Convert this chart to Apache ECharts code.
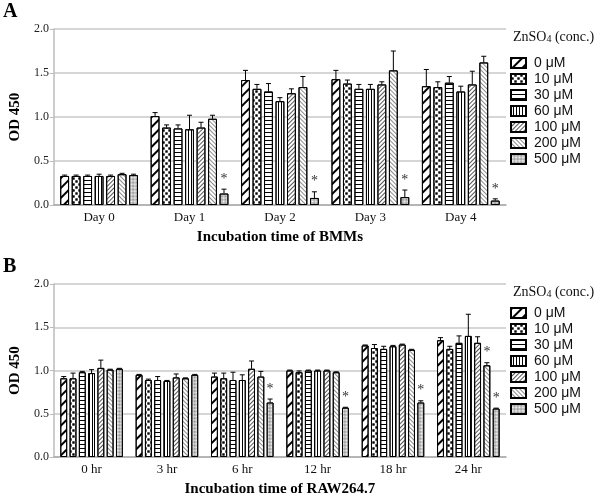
<!DOCTYPE html>
<html>
<head>
<meta charset="utf-8">
<script src="https://cdn.jsdelivr.net/npm/echarts@6/dist/echarts.min.js"></script>
<style>html,body{margin:0;padding:0;background:#fff}#c{width:600px;height:498px}</style>
</head>
<body>
<div id="c"></div>
<script>
const categoriesA = ['Day 0', 'Day 1', 'Day 2', 'Day 3', 'Day 4'];
const categoriesB = ['0 hr', '3 hr', '6 hr', '12 hr', '18 hr', '24 hr'];
const concentrations = ['0 μM', '10 μM', '30 μM', '60 μM', '100 μM', '200 μM', '500 μM'];
const yTicks = [0, 0.5, 1.0, 1.5, 2.0];

// Panel A: BMMs (one row per concentration, one column per day)
const valuesA = [
  [0.33, 1.01, 1.42, 1.43, 1.35],
  [0.33, 0.88, 1.32, 1.38, 1.34],
  [0.33, 0.87, 1.29, 1.32, 1.39],
  [0.33, 0.86, 1.18, 1.32, 1.29],
  [0.33, 0.88, 1.27, 1.37, 1.37],
  [0.35, 0.98, 1.34, 1.53, 1.62],
  [0.34, 0.13, 0.08, 0.09, 0.05]
];
const errorsA = [
  [0.01, 0.04, 0.11, 0.10, 0.19],
  [0.01, 0.03, 0.05, 0.04, 0.06],
  [0.01, 0.04, 0.09, 0.05, 0.07],
  [0.02, 0.16, 0.04, 0.05, 0.06],
  [0.01, 0.06, 0.05, 0.03, 0.15],
  [0.01, 0.04, 0.12, 0.22, 0.07],
  [0.01, 0.05, 0.07, 0.08, 0.02]
];
const signifA = [
  [0, 0, 0, 0, 0],
  [0, 0, 0, 0, 0],
  [0, 0, 0, 0, 0],
  [0, 0, 0, 0, 0],
  [0, 0, 0, 0, 0],
  [0, 0, 0, 0, 0],
  [0, 1, 1, 1, 1]
];

// Panel B: RAW264.7
const valuesB = [
  [0.91, 0.95, 0.93, 1.00, 1.29, 1.35],
  [0.91, 0.89, 0.91, 0.98, 1.26, 1.25],
  [0.98, 0.89, 0.89, 1.00, 1.25, 1.32],
  [0.97, 0.88, 0.89, 1.00, 1.28, 1.40],
  [1.03, 0.92, 1.02, 1.00, 1.30, 1.32],
  [1.01, 0.91, 0.93, 0.98, 1.24, 1.06],
  [1.02, 0.95, 0.63, 0.57, 0.63, 0.56]
];
const errorsB = [
  [0.02, 0.005, 0.04, 0.005, 0.005, 0.03],
  [0.06, 0.01, 0.06, 0.015, 0.04, 0.03],
  [0.01, 0.04, 0.09, 0.005, 0.03, 0.08],
  [0.04, 0.005, 0.06, 0.005, 0.01, 0.25],
  [0.09, 0.04, 0.09, 0.005, 0.005, 0.07],
  [0.005, 0.005, 0.06, 0.005, 0.005, 0.03],
  [0.005, 0.005, 0.04, 0.005, 0.02, 0.005]
];
const signifB = [
  [0, 0, 0, 0, 0, 0],
  [0, 0, 0, 0, 0, 0],
  [0, 0, 0, 0, 0, 0],
  [0, 0, 0, 0, 0, 0],
  [0, 0, 0, 0, 0, 0],
  [0, 0, 0, 0, 0, 1],
  [0, 0, 1, 1, 1, 1]
];

const serif = '"Liberation Serif", "Times New Roman", serif';
const sans = '"Liberation Sans", Arial, sans-serif';

const decals = [
  { symbol: 'rect', color: '#000', dashArrayX: [1, 0], dashArrayY: [1.4, 4.2], rotation: -Math.PI / 4 },
  { symbol: 'rect', color: '#000', dashArrayX: [[3, 3], [0, 3, 3, 0]], dashArrayY: [3, 0] },
  { symbol: 'rect', color: '#000', dashArrayX: [1, 0], dashArrayY: [1, 2.6], rotation: 0 },
  { symbol: 'rect', color: '#000', dashArrayX: [1, 0], dashArrayY: [1, 2], rotation: Math.PI / 2 },
  { symbol: 'rect', color: '#555', dashArrayX: [1, 0], dashArrayY: [0.8, 1.9], rotation: -Math.PI / 4 },
  { symbol: 'rect', color: '#333', dashArrayX: [1, 0], dashArrayY: [1, 1.8], rotation: Math.PI / 4 },
  { symbol: 'rect', color: '#888', dashArrayX: [[1, 1], [0, 1, 1, 0]], dashArrayY: [1, 0], rotation: Math.PI / 4 }
];

const layouts = [
  { catGap: 0.14, gap: 0.30 },
  { catGap: 0.17, gap: 0.35 }
];

const gridBox = [
  { left: 43, top: 29, width: 463, height: 176 },
  { left: 43, top: 284, width: 463, height: 176 }
];

function makeErrSeries(gi, values, errors, signif) {
  const data = [];
  values.forEach((row, si) => row.forEach((v, ci) => {
    data.push([ci, si, v, errors[si][ci], signif[si][ci]]);
  }));
  const lay = layouts[gi];
  const n = values.length;
  return {
    type: 'custom',
    name: 'err' + gi,
    xAxisIndex: gi, yAxisIndex: gi,
    z: 5,
    silent: true,
    encode: { x: 0, y: 2 },
    data: data,
    renderItem: function (params, api) {
      const ci = api.value(0), si = api.value(1), v = api.value(2), e = api.value(3), sig = api.value(4);
      const bw = api.size([1, 0])[0];
      const remained = bw * (1 - lay.catGap);
      const w = remained / (n + (n - 1) * lay.gap);
      const off = -remained / 2 + si * w * (1 + lay.gap) + w / 2;
      const base = api.coord([ci, v]);
      const top = api.coord([ci, v + e]);
      const x = base[0] + off;
      const st = { stroke: '#000', lineWidth: 1 };
      const children = [
        { type: 'line', shape: { x1: x, y1: base[1], x2: x, y2: top[1] }, style: st },
        { type: 'line', shape: { x1: x - 2.5, y1: top[1], x2: x + 2.5, y2: top[1] }, style: st }
      ];
      if (sig) {
        children.push({
          type: 'text',
          style: { text: '*', x: x, y: top[1] - 3, align: 'center', verticalAlign: 'bottom', font: '14px ' + serif, fill: '#333' }
        });
      }
      return { type: 'group', children: children };
    }
  };
}

const series = [];
[valuesA, valuesB].forEach((vals, gi) => {
  vals.forEach((row, si) => {
    series.push({
      type: 'bar',
      name: concentrations[si],
      xAxisIndex: gi, yAxisIndex: gi,
      data: row,
      barGap: (layouts[gi].gap * 100) + '%',
      barCategoryGap: (layouts[gi].catGap * 100) + '%',
      itemStyle: { color: '#fff', borderColor: '#000', borderWidth: 1, decal: decals[si] },
      emphasis: { disabled: true }
    });
  });
});
series.push(makeErrSeries(0, valuesA, errorsA, signifA));
series.push(makeErrSeries(1, valuesB, errorsB, signifB));

function xAxis(gi, cats, name) {
  return {
    type: 'category', gridIndex: gi, data: cats,
    name: name, nameLocation: 'middle', nameGap: 25,
    nameTextStyle: { fontFamily: serif, fontWeight: 'bold', fontSize: 15, color: '#000' },
    axisLine: { lineStyle: { color: '#aaa', width: 1.5 } },
    axisTick: { alignWithLabel: true, length: 4, lineStyle: { color: '#aaa' } },
    axisLabel: { fontFamily: serif, fontSize: 13, color: '#111', margin: 6 }
  };
}
function yAxis(gi) {
  return {
    type: 'value', gridIndex: gi, min: yTicks[0], max: yTicks[yTicks.length - 1], interval: yTicks[1] - yTicks[0],
    name: 'OD 450', nameLocation: 'middle', nameGap: 25, nameRotate: 90,
    nameTextStyle: { fontFamily: serif, fontWeight: 'bold', fontSize: 15, color: '#000' },
    axisLine: { show: true, lineStyle: { color: '#bbb', width: 1.5 } },
    axisTick: { show: true, length: 4, lineStyle: { color: '#bbb' } },
    axisLabel: { fontFamily: serif, fontSize: 12, color: '#222', margin: 5, formatter: v => v.toFixed(1) },
    splitLine: { lineStyle: { color: '#c8c8c8', width: 1.5 } }
  };
}

function legend(top) {
  return {
    data: concentrations,
    orient: 'vertical', left: 510, top: top,
    icon: 'rect', itemWidth: 15, itemHeight: 10, itemGap: 2,
    selectedMode: false,
    textStyle: { fontFamily: sans, fontSize: 14, color: '#111', lineHeight: 14, padding: [0, 0, 0, 3] },
    padding: 0
  };
}

const chart = echarts.init(document.getElementById('c'), null, { renderer: 'canvas' });
chart.setOption({
  animation: false,
  backgroundColor: '#fff',
  aria: { enabled: true, decal: { show: true } },
  grid: gridBox,
  xAxis: [xAxis(0, categoriesA, 'Incubation time of BMMs'), xAxis(1, categoriesB, 'Incubation time of RAW264.7')],
  yAxis: [yAxis(0), yAxis(1)],
  legend: [legend(56), legend(306)],
  graphic: [
    { type: 'text', left: 3, top: 2, style: { text: 'A', font: 'bold 20px ' + serif, fill: '#000' } },
    { type: 'text', left: 3, top: 257, style: { text: 'B', font: 'bold 20px ' + serif, fill: '#000' } },
    { type: 'text', left: 513, top: 30, style: { text: '{a|ZnSO}{b|4}{a| (conc.)}', rich: { a: { fontFamily: serif, fontSize: 14, fill: '#111' }, b: { fontFamily: serif, fontSize: 10, fill: '#111', verticalAlign: 'bottom' } } } },
    { type: 'text', left: 513, top: 285, style: { text: '{a|ZnSO}{b|4}{a| (conc.)}', rich: { a: { fontFamily: serif, fontSize: 14, fill: '#111' }, b: { fontFamily: serif, fontSize: 10, fill: '#111', verticalAlign: 'bottom' } } } }
  ],
  series: series
});
</script>
</body>
</html>
